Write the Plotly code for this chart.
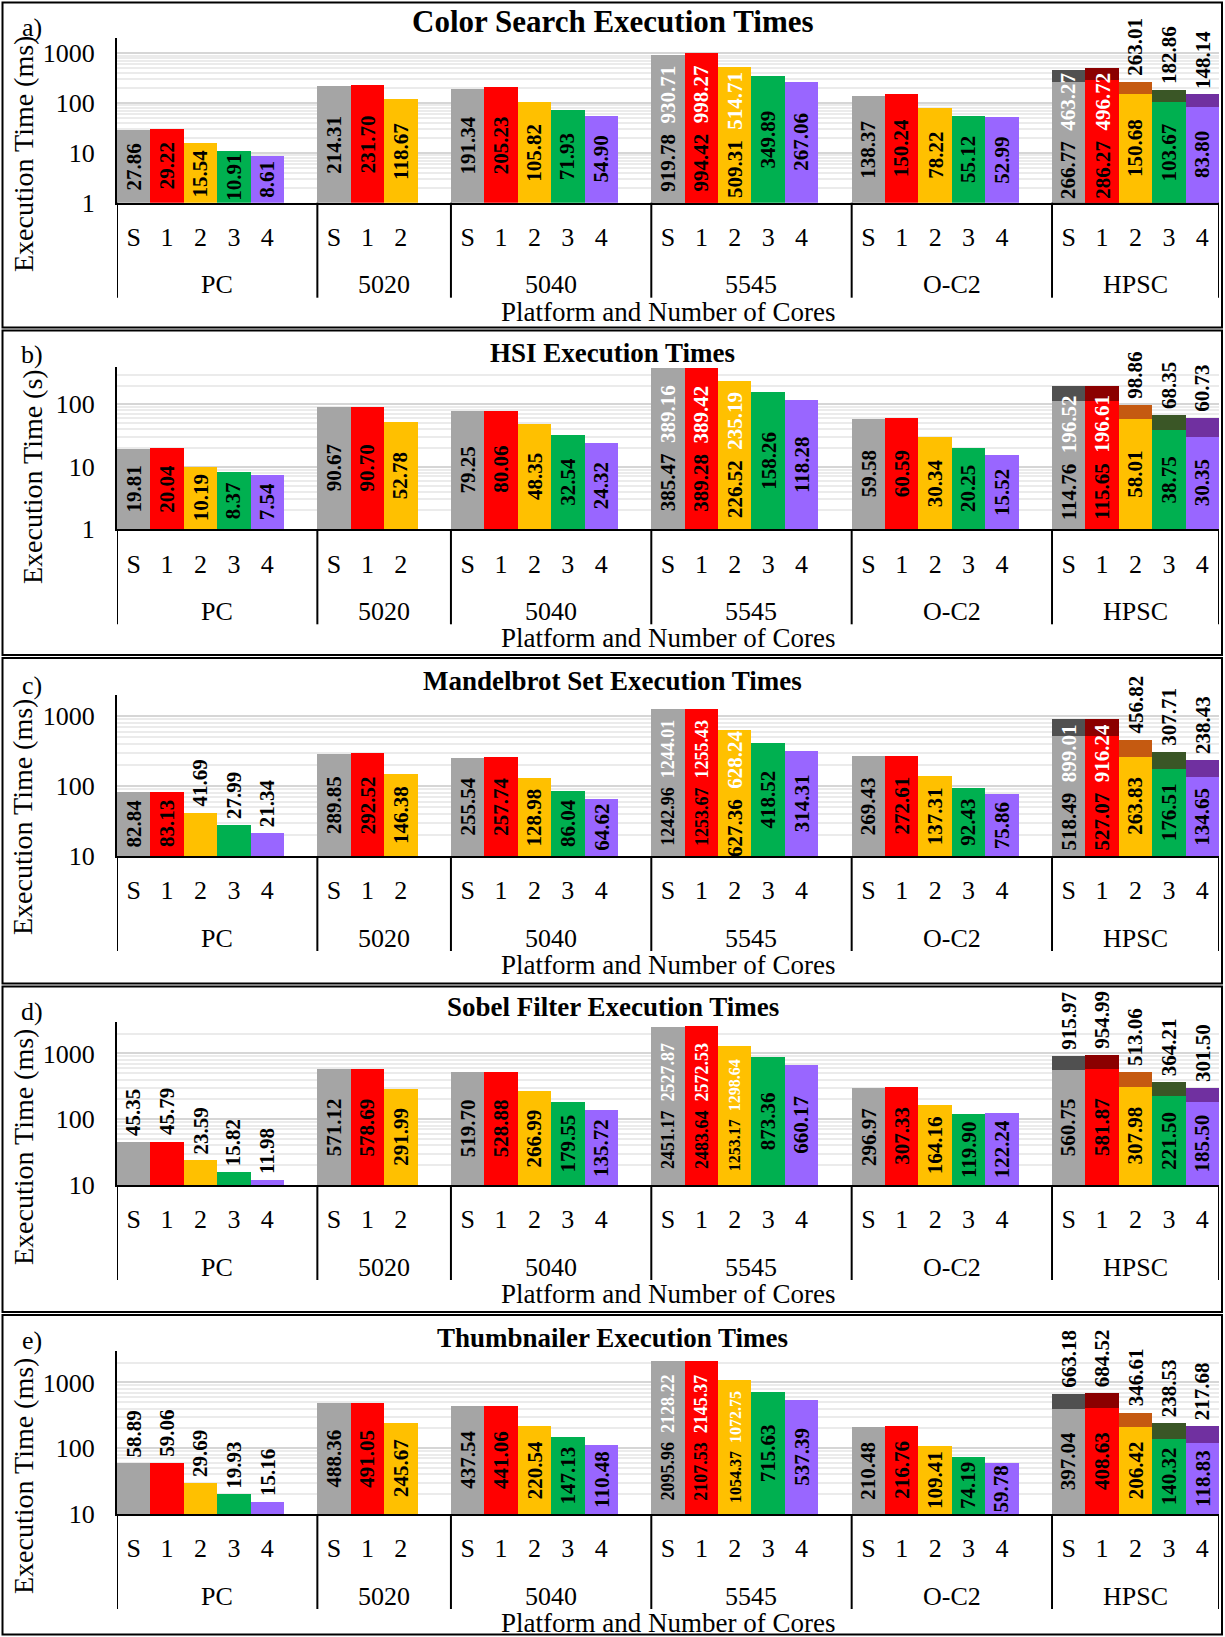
import math
import plotly.graph_objects as go

W, H = 1225, 1637
FONT = "Liberation Serif, Times New Roman, serif"

core_labels = ["S", "1", "2", "3", "4"]
platforms = ["PC", "5020", "5040", "5545", "O-C2", "HPSC"]

# a) Color Search Execution Times (ms)
cs_pc = [27.86, 29.22, 15.54, 10.91, 8.61]
cs_5020 = [214.31, 231.70, 118.67]
cs_5040 = [191.34, 205.23, 105.82, 71.93, 54.90]
cs_5545 = [919.78, 994.42, 509.31, 349.89, 267.06]
cs_5545_max = [930.71, 998.27, 514.71, None, None]
cs_oc2 = [138.37, 150.24, 78.22, 55.12, 52.99]
cs_hpsc = [266.77, 286.27, 150.68, 103.67, 83.80]
cs_hpsc_max = [463.27, 496.72, 263.01, 182.86, 148.14]

# b) HSI Execution Times (s)
hsi_pc = [19.81, 20.04, 10.19, 8.37, 7.54]
hsi_5020 = [90.67, 90.70, 52.78]
hsi_5040 = [79.25, 80.06, 48.35, 32.54, 24.32]
hsi_5545 = [385.47, 389.28, 226.52, 158.26, 118.28]
hsi_5545_max = [389.16, 389.42, 235.19, None, None]
hsi_oc2 = [59.58, 60.59, 30.34, 20.25, 15.52]
hsi_hpsc = [114.76, 115.65, 58.01, 38.75, 30.35]
hsi_hpsc_max = [196.52, 196.61, 98.86, 68.35, 60.73]

# c) Mandelbrot Set Execution Times (ms)
mb_pc = [82.84, 83.13, 41.69, 27.99, 21.34]
mb_5020 = [289.85, 292.52, 146.38]
mb_5040 = [255.54, 257.74, 128.98, 86.04, 64.62]
mb_5545 = [1242.96, 1253.67, 627.36, 418.52, 314.31]
mb_5545_max = [1244.01, 1255.43, 628.24, None, None]
mb_oc2 = [269.43, 272.61, 137.31, 92.43, 75.86]
mb_hpsc = [518.49, 527.07, 263.83, 176.51, 134.65]
mb_hpsc_max = [899.01, 916.24, 456.82, 307.71, 238.43]

# d) Sobel Filter Execution Times (ms)
sf_pc = [45.35, 45.79, 23.59, 15.82, 11.98]
sf_5020 = [571.12, 578.69, 291.99]
sf_5040 = [519.70, 528.88, 266.99, 179.55, 135.72]
sf_5545 = [2451.17, 2483.64, 1253.17, 873.36, 660.17]
sf_5545_max = [2527.87, 2572.53, 1298.64, None, None]
sf_oc2 = [296.97, 307.33, 164.16, 119.90, 122.24]
sf_hpsc = [560.75, 581.87, 307.98, 221.50, 185.50]
sf_hpsc_max = [915.97, 954.99, 513.06, 364.21, 301.50]

# e) Thumbnailer Execution Times (ms)
th_pc = [58.89, 59.06, 29.69, 19.93, 15.16]
th_5020 = [488.36, 491.05, 245.67]
th_5040 = [437.54, 441.06, 220.54, 147.13, 110.48]
th_5545 = [2095.96, 2107.53, 1054.37, 715.63, 537.39]
th_5545_max = [2128.22, 2145.37, 1072.75, None, None]
th_oc2 = [210.48, 216.76, 109.41, 74.19, 59.78]
th_hpsc = [397.04, 408.63, 206.42, 140.32, 118.83]
th_hpsc_max = [663.18, 684.52, 346.61, 238.53, 217.68]

titles = ["Color Search Execution Times", "HSI Execution Times",
          "Mandelbrot Set Execution Times", "Sobel Filter Execution Times",
          "Thumbnailer Execution Times"]
letters = ["a)", "b)", "c)", "d)", "e)"]
ytitles = ["Execution Time (ms)", "Execution Time (s)", "Execution Time (ms)",
           "Execution Time (ms)", "Execution Time (ms)"]
yticks = [[1, 10, 100, 1000], [1, 10, 100], [10, 100, 1000], [10, 100, 1000], [10, 100, 1000]]

panel_data = [
    (cs_pc, cs_5020, cs_5040, cs_5545, cs_5545_max, cs_oc2, cs_hpsc, cs_hpsc_max),
    (hsi_pc, hsi_5020, hsi_5040, hsi_5545, hsi_5545_max, hsi_oc2, hsi_hpsc, hsi_hpsc_max),
    (mb_pc, mb_5020, mb_5040, mb_5545, mb_5545_max, mb_oc2, mb_hpsc, mb_hpsc_max),
    (sf_pc, sf_5020, sf_5040, sf_5545, sf_5545_max, sf_oc2, sf_hpsc, sf_hpsc_max),
    (th_pc, th_5020, th_5040, th_5545, th_5545_max, th_oc2, th_hpsc, th_hpsc_max),
]

# ---- styling / geometry (pixels) ----
light = ["#A5A5A5", "#FF0000", "#FFC000", "#00B050", "#9966FF"]
dark = ["#505050", "#8B0000", "#C55A11", "#3A5626", "#7030A0"]

geo = [
    dict(top=38.3, bot=202.7, yr=(1, 2000), box=(2.5, 327.5), title_y=21, title_fs=31, letter_y=28, yt=(23, 154)),
    dict(top=366.7, bot=529.3, yr=(1, 400), box=(330.5, 655), title_y=353, title_fs=27, letter_y=355, yt=(33, 477)),
    dict(top=695, bot=856, yr=(10, 2000), box=(658, 983.5), title_y=681, title_fs=27, letter_y=685, yt=(23, 817)),
    dict(top=1022, bot=1185, yr=(10, 3000), box=(986.5, 1312), title_y=1007, title_fs=27, letter_y=1011, yt=(23, 1147)),
    dict(top=1351, bot=1514, yr=(10, 3000), box=(1315, 1634.5), title_y=1338, title_fs=27, letter_y=1340, yt=(23, 1476)),
]
hpsc_inner_upper = [True, True, True, False, False]
pc_outside = [[], [], [2, 3, 4], [0, 1, 2, 3, 4], [0, 1, 2, 3, 4]]

X0, X1 = 117, 1219
group_n = [5, 3, 5, 5, 5, 5]
starts = []
p = 0
for i, n in enumerate(group_n):
    starts.append(p)
    p += n + (1 if i < len(group_n) - 1 else 0)
NSLOT = p


def py(px):
    return 1 - px / H


def fmt(v):
    return "%.2f" % v


def lsize(s, ci):
    if len(s) >= 7:
        return 16 if ci == 2 else 18
    return 21


fig = go.Figure()
annotations = []
shapes = []
layout_axes = {}

for k in range(5):
    g = geo[k]
    sfx = "" if k == 0 else str(k + 1)
    xa, ya = "x" + sfx, "y" + sfx
    pc, g5020, g5040, g5545, g5545m, oc2, hpsc, hpscm = panel_data[k]
    groups_lo = [pc, g5020, g5040, g5545, oc2, hpsc]
    ymin_l = math.log10(g["yr"][0])
    ymax_l = math.log10(g["yr"][1])

    xs_lo, ys_lo, cs_lo = [], [], []
    xs_hi, ys_hi, cs_hi = [], [], []
    tickvals, ticktext = [], []
    for gi, vals in enumerate(groups_lo):
        for ci, v in enumerate(vals):
            x = starts[gi] + ci
            xs_lo.append(x); ys_lo.append(v); cs_lo.append(light[ci])
            tickvals.append(x); ticktext.append(core_labels[ci])
            hi = None
            if gi == 3:
                hi = g5545m[ci]
                if hi is not None:
                    xs_hi.append(x); ys_hi.append(hi); cs_hi.append(light[ci])
            elif gi == 5:
                hi = hpscm[ci]
                xs_hi.append(x); ys_hi.append(hi); cs_hi.append(dark[ci])

            s_lo = fmt(v)
            base = dict(xref=xa, yref=ya, x=x, textangle=-90, showarrow=False,
                        font=dict(family=FONT, color="black"))
            if hi is not None and (gi == 3 or (gi == 5 and ci < 2 and hpsc_inner_upper[k])):
                s_hi = fmt(hi)
                fs = min(lsize(s_lo, ci), lsize(s_hi, ci))
                txt = "<b>%s\u00a0\u00a0<span style='color:white'>%s</span></b>" % (s_lo, s_hi)
                a = dict(base, y=(ymin_l + math.log10(hi)) / 2, text=txt, yanchor="middle")
                a["font"] = dict(family=FONT, color="black", size=fs)
                annotations.append(a)
            else:
                outside = (gi == 0 and ci in pc_outside[k])
                if outside:
                    a = dict(base, y=math.log10(v), text="<b>%s</b>" % s_lo, yanchor="bottom", yshift=4)
                else:
                    a = dict(base, y=(ymin_l + math.log10(v)) / 2, text="<b>%s</b>" % s_lo, yanchor="middle")
                a["font"] = dict(family=FONT, color="black", size=lsize(s_lo, ci))
                annotations.append(a)
                if hi is not None:
                    s_hi = fmt(hi)
                    a2 = dict(base, y=math.log10(hi), text="<b>%s</b>" % s_hi, yanchor="bottom", yshift=4)
                    a2["font"] = dict(family=FONT, color="black", size=lsize(s_hi, ci))
                    annotations.append(a2)

    fig.add_trace(go.Bar(x=xs_hi, y=ys_hi, marker=dict(color=cs_hi, line=dict(width=0)),
                         width=1, xaxis=xa, yaxis=ya, hoverinfo="skip"))
    fig.add_trace(go.Bar(x=xs_lo, y=ys_lo, marker=dict(color=cs_lo, line=dict(width=0)),
                         width=1, xaxis=xa, yaxis=ya, hoverinfo="skip"))

    layout_axes["xaxis" + sfx] = dict(
        domain=[X0 / W, X1 / W], anchor=ya, range=[-0.5, NSLOT - 0.5],
        tickmode="array", tickvals=tickvals, ticktext=ticktext,
        tickfont=dict(family=FONT, size=26, color="black"), ticks="", ticklabelstandoff=10,
        showgrid=False, zeroline=False, showline=True, linecolor="black", linewidth=2,
        fixedrange=True, automargin=False)
    layout_axes["yaxis" + sfx] = dict(
        domain=[py(g["bot"]), py(g["top"])], anchor=xa, type="log",
        range=[ymin_l, ymax_l], tickmode="array", tickvals=yticks[k],
        ticktext=[str(t) for t in yticks[k]],
        tickfont=dict(family=FONT, size=26, color="black"), ticks="", ticklabelstandoff=15,
        showgrid=True, gridcolor="#d6d6d6", gridwidth=2,
        minor=dict(dtick="D1", showgrid=True, gridcolor="#ebebeb", gridwidth=1.5, ticks=""),
        zeroline=False, showline=True, linecolor="black", linewidth=2, fixedrange=True,
        automargin=False)

    # separators of category groups
    sep_bot = g["bot"] + 95
    seps = [s - 0.5 for s in starts] + [NSLOT - 0.5]
    for sx in seps:
        shapes.append(dict(type="line", xref=xa, yref="paper", x0=sx, x1=sx,
                           y0=py(g["bot"]), y1=py(sep_bot), line=dict(color="black", width=2)))
    # group labels
    for gi, name in enumerate(platforms):
        left = starts[gi] - 0.5
        right = starts[gi + 1] - 0.5 if gi < len(platforms) - 1 else NSLOT - 0.5
        annotations.append(dict(xref=xa, yref="paper", x=(left + right) / 2, y=py(g["bot"] + 82),
                                text=name, showarrow=False, yanchor="middle",
                                font=dict(family=FONT, size=26, color="black")))
    # x title
    annotations.append(dict(xref=xa, yref="paper", x=(NSLOT - 1) / 2, y=py(g["bot"] + 109),
                            text="Platform and Number of Cores", showarrow=False, yanchor="middle",
                            font=dict(family=FONT, size=27, color="black")))
    # title
    annotations.append(dict(xref="paper", yref="paper", x=0.5, y=py(g["title_y"]),
                            text="<b>%s</b>" % titles[k], showarrow=False, yanchor="middle",
                            font=dict(family=FONT, size=g["title_fs"], color="black")))
    # panel letter
    annotations.append(dict(xref="paper", yref="paper", x=32 / W, y=py(g["letter_y"]),
                            text=letters[k], showarrow=False, yanchor="middle", xanchor="center",
                            font=dict(family=FONT, size=26, color="black")))
    # y title
    annotations.append(dict(xref="paper", yref="paper", x=g["yt"][0] / W, y=py(g["yt"][1]),
                            text=ytitles[k], showarrow=False, textangle=-90,
                            yanchor="middle", xanchor="center",
                            font=dict(family=FONT, size=28, color="black")))
    # panel frame
    shapes.append(dict(type="rect", xref="paper", yref="paper", x0=2.5 / W, x1=1222 / W,
                       y0=py(g["box"][1]), y1=py(g["box"][0]), line=dict(color="black", width=2)))

fig.update_layout(
    width=W, height=H, margin=dict(l=0, r=0, t=0, b=0, pad=0, autoexpand=False), autosize=False,
    paper_bgcolor="white", plot_bgcolor="white", showlegend=False,
    barmode="overlay", bargap=0,
    font=dict(family=FONT, color="black"),
    annotations=annotations, shapes=shapes, **layout_axes)

fig.write_html("out.html",
               config={"displayModeBar": False, "responsive": False},
               post_script="document.documentElement.style.overflow='hidden';"
                           "document.body.style.margin='0';document.body.style.overflow='hidden';")
